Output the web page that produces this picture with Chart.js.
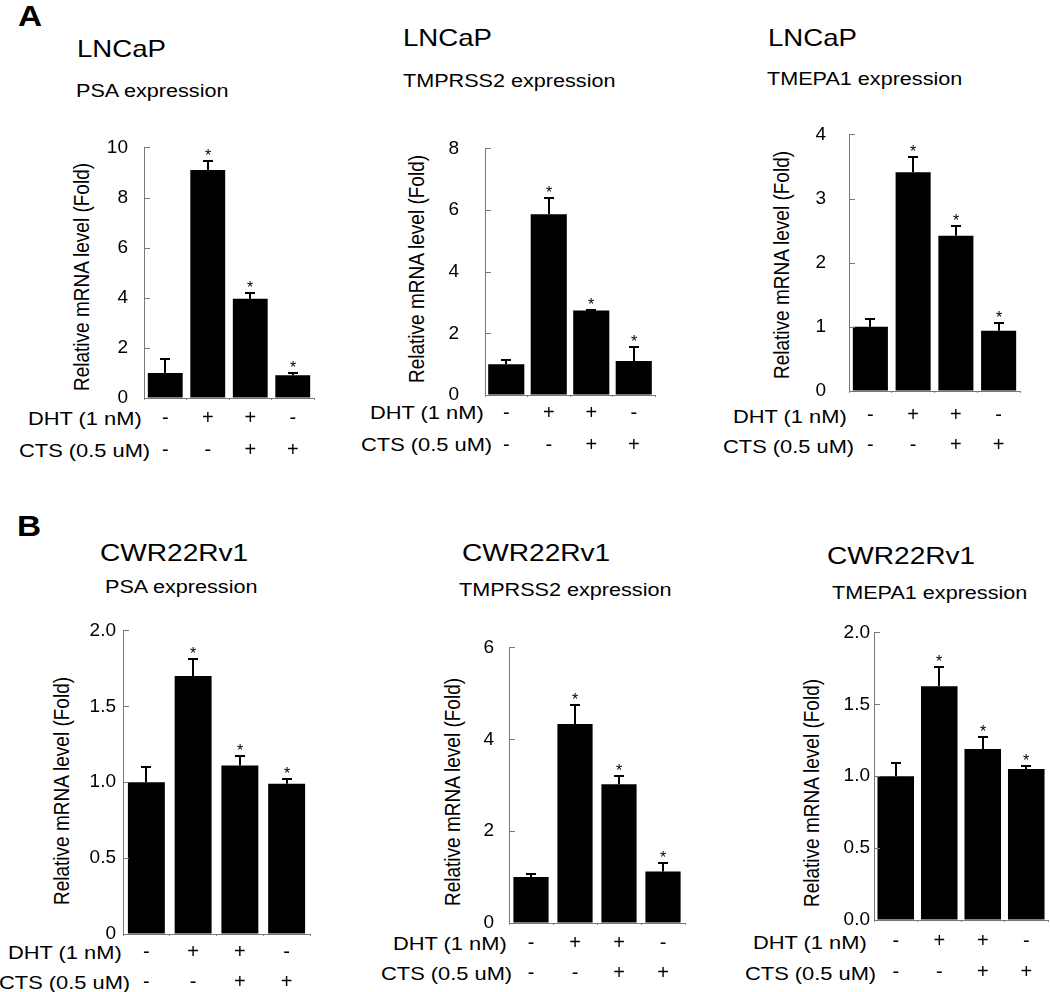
<!DOCTYPE html>
<html><head><meta charset="utf-8">
<script src="https://cdn.jsdelivr.net/npm/chart.js@4.4.0/dist/chart.umd.min.js"></script>
<style>
html,body{margin:0;padding:0;background:#fff;overflow:hidden;width:1050px;height:992px;}
#stage{position:relative;width:1050px;height:992px;overflow:hidden;font-family:"Liberation Sans",Arial,sans-serif;color:#000;}
.t{position:absolute;white-space:nowrap;line-height:1;transform-origin:left center;}
.yt{position:absolute;white-space:nowrap;line-height:1;transform:translate(-50%,-50%) rotate(-90deg) scaleY(1.15);font-size:19px;}
canvas{position:absolute;}
</style></head><body><div id="stage"></div>
<script>
// ---------- data ----------
const dhtSigns = ['-', '+', '+', '-'];
const ctsSigns = ['-', '-', '+', '+'];
const significant = [false, true, true, true];

const lncapPSA = [1.0, 9.1, 3.96, 0.91];
const lncapPSAErr = [0.56, 0.35, 0.23, 0.09];
const lncapTMPRSS2 = [1.0, 5.86, 2.74, 1.1];
const lncapTMPRSS2Err = [0.13, 0.54, 0.03, 0.45];
const lncapTMEPA1 = [1.0, 3.41, 2.42, 0.94];
const lncapTMEPA1Err = [0.13, 0.24, 0.15, 0.12];

const cwrPSA = [1.0, 1.70, 1.11, 0.99];
const cwrPSAErr = [0.10, 0.11, 0.06, 0.03];
const cwrTMPRSS2 = [1.0, 4.33, 3.02, 1.12];
const cwrTMPRSS2Err = [0.06, 0.42, 0.18, 0.19];
const cwrTMEPA1 = [1.0, 1.625, 1.19, 1.05];
const cwrTMEPA1Err = [0.09, 0.135, 0.08, 0.02];

const ticksA1 = ['0', '2', '4', '6', '8', '10'];
const ticksA2 = ['0', '2', '4', '6', '8'];
const ticksA3 = ['0', '1', '2', '3', '4'];
const ticksB1 = ['0', '0.5', '1.0', '1.5', '2.0'];
const ticksB2 = ['0', '2', '4', '6'];
const ticksB3 = ['0.0', '0.5', '1.0', '1.5', '2.0'];

const yTitle = 'Relative mRNA level (Fold)';
const dhtLabel = 'DHT (1 nM)';
const ctsLabel = 'CTS (0.5 uM)';

// ---------- layout ----------
const FONT = '"Liberation Sans", Arial, sans-serif';
const panels = [
  {id:'a1', vals:lncapPSA, errs:lncapPSAErr, ticks:ticksA1, max:10, step:2,
   L:144, R:314, T:135, B:398, bp:0.82, tickPad:16, xPad:2, lh:32},
  {id:'a2', vals:lncapTMPRSS2, errs:lncapTMPRSS2Err, ticks:ticksA2, max:8, step:2,
   L:485, R:655, T:126, B:395, bp:0.85, tickPad:26, xPad:0, lh:32},
  {id:'a3', vals:lncapTMEPA1, errs:lncapTMEPA1Err, ticks:ticksA3, max:4, step:1,
   L:849, R:1020, T:115, B:391, bp:0.82, tickPad:23, xPad:7, lh:30},
  {id:'b1', vals:cwrPSA, errs:cwrPSAErr, ticks:ticksB1, max:2, step:0.5,
   L:123, R:310, T:627, B:934, bp:0.79, tickPad:7, xPad:1, lh:30},
  {id:'b2', vals:cwrTMPRSS2, errs:cwrTMPRSS2Err, ticks:ticksB2, max:6, step:2,
   L:509, R:685, T:636, B:923, bp:0.80, tickPad:15, xPad:3, lh:30},
  {id:'b3', vals:cwrTMEPA1, errs:cwrTMEPA1Err, ticks:ticksB3, max:2, step:0.5,
   L:874, R:1048, T:632, B:920, bp:0.84, tickPad:4, xPad:4, lh:31},
];

const texts = [
  // [text, left, centerY, size, bold, scaleX]
  ['A', 18, 16, 29, true, 1.15],
  ['B', 17, 526, 29, true, 1.15],
  ['LNCaP', 77, 49, 24, false, 1.15],
  ['LNCaP', 403, 38, 24, false, 1.15],
  ['LNCaP', 768, 38, 24, false, 1.15],
  ['PSA expression', 76, 91, 18, false, 1.2],
  ['TMPRSS2 expression', 403, 81, 18, false, 1.2],
  ['TMEPA1 expression', 767, 79, 18, false, 1.2],
  ['CWR22Rv1', 100, 553, 24, false, 1.17],
  ['CWR22Rv1', 462, 553, 24, false, 1.17],
  ['CWR22Rv1', 827, 556, 24, false, 1.17],
  ['PSA expression', 105, 587, 18, false, 1.2],
  ['TMPRSS2 expression', 459, 590, 18, false, 1.2],
  ['TMEPA1 expression', 832, 593, 18, false, 1.2],
  [dhtLabel, 28, 418, 19, false, 1.15],
  [ctsLabel, 19, 450, 19, false, 1.15],
  [dhtLabel, 370, 412, 19, false, 1.15],
  [ctsLabel, 361, 444, 19, false, 1.15],
  [dhtLabel, 733, 416, 19, false, 1.15],
  [ctsLabel, 723, 446, 19, false, 1.15],
  [dhtLabel, 8, 952, 19, false, 1.15],
  [ctsLabel, -1, 982, 19, false, 1.15],
  [dhtLabel, 393, 943, 19, false, 1.15],
  [ctsLabel, 381, 973, 19, false, 1.15],
  [dhtLabel, 753, 942, 19, false, 1.15],
  [ctsLabel, 745, 973, 19, false, 1.15],
];
const yTitles = [[82, 277], [417, 269], [782, 265], [62, 791], [453, 792], [812, 793]];

const stage = document.getElementById('stage');
texts.forEach(([s, x, y, size, bold, sx]) => {
  const d = document.createElement('div');
  d.className = 't';
  d.textContent = s;
  d.style.left = x + 'px';
  d.style.top = y + 'px';
  d.style.fontSize = size + 'px';
  d.style.fontWeight = bold ? 'bold' : 'normal';
  d.style.transform = 'translateY(-50%) scaleX(' + sx + ')';
  stage.appendChild(d);
});
yTitles.forEach(([x, y]) => {
  const d = document.createElement('div');
  d.className = 'yt';
  d.textContent = yTitle;
  d.style.left = x + 'px';
  d.style.top = y + 'px';
  stage.appendChild(d);
});

const errPlugin = {
  id: 'errbars',
  afterDatasetsDraw(chart) {
    const {ctx, scales: {x, y}} = chart;
    const cfg = chart.options.plugins.errbars;
    const meta = chart.getDatasetMeta(0);
    ctx.save();
    ctx.strokeStyle = '#777';
    ctx.lineWidth = 1;
    y.ticks.forEach(t => {
      const py = Math.round(y.getPixelForValue(t.value)) + 0.5;
      ctx.beginPath();
      ctx.moveTo(x.left, py);
      ctx.lineTo(x.left + 6, py);
      ctx.stroke();
    });
    ctx.strokeStyle = '#000';
    ctx.lineWidth = 2;
    cfg.means.forEach((m, i) => {
      const px = Math.round(meta.data[i].x);
      const pTop = Math.round(y.getPixelForValue(m + cfg.errs[i]));
      const pBar = y.getPixelForValue(m);
      ctx.beginPath();
      ctx.moveTo(px, pBar);
      ctx.lineTo(px, pTop);
      ctx.moveTo(px - 5, pTop);
      ctx.lineTo(px + 5, pTop);
      ctx.stroke();
      if (cfg.sig[i]) {
        ctx.fillStyle = '#000';
        ctx.font = '16px ' + FONT;
        ctx.textAlign = 'center';
        ctx.textBaseline = 'alphabetic';
        ctx.fillText('*', px, pTop);
      }
    });
    ctx.restore();
  }
};

const categories = dhtSigns.map((d, i) => [d, ctsSigns[i]]);
const yW = 60, PT = 15, XH = 75;

panels.forEach(p => {
  const PR = p.R > 1040 ? 2 : 4;
  const cw = yW + (p.R - p.L) + PR;
  const ch = PT + (p.B - p.T) + XH;
  const c = document.createElement('canvas');
  c.width = cw; c.height = ch;
  c.style.width = cw + 'px'; c.style.height = ch + 'px';
  c.style.left = (p.L - yW) + 'px';
  c.style.top = (p.T - PT) + 'px';
  stage.appendChild(c);
  new Chart(c.getContext('2d'), {
    type: 'bar',
    data: {
      labels: categories,
      datasets: [{
        data: p.vals,
        backgroundColor: '#000',
        borderWidth: 0,
        barPercentage: p.bp,
        categoryPercentage: 1.0
      }]
    },
    options: {
      responsive: false,
      animation: false,
      devicePixelRatio: 1,
      layout: {padding: {top: PT, right: PR, left: 0, bottom: 0}},
      plugins: {
        legend: {display: false},
        tooltip: {enabled: false},
        errbars: {means: p.vals, errs: p.errs, sig: significant}
      },
      scales: {
        x: {
          type: 'category',
          offset: true,
          grid: {display: true, offset: true, drawOnChartArea: false, drawTicks: true, tickLength: 2, color: '#888'},
          border: {display: true, color: '#777', width: 1},
          ticks: {
            color: '#000', autoSkip: false, maxRotation: 0, minRotation: 0,
            padding: p.xPad,
            font: {family: FONT, size: 20, lineHeight: p.lh + 'px'}
          },
          afterFit: s => { s.height = XH; }
        },
        y: {
          type: 'linear',
          min: 0, max: p.max,
          grid: {display: true, drawOnChartArea: false, drawTicks: false},
          border: {display: true, color: '#777', width: 1},
          ticks: {
            stepSize: p.step, color: '#000', padding: p.tickPad,
            font: {family: FONT, size: 19},
            callback: (v, i) => p.ticks[i]
          },
          afterFit: s => { s.width = yW; }
        }
      }
    },
    plugins: [errPlugin]
  });
});
</script></body></html>
